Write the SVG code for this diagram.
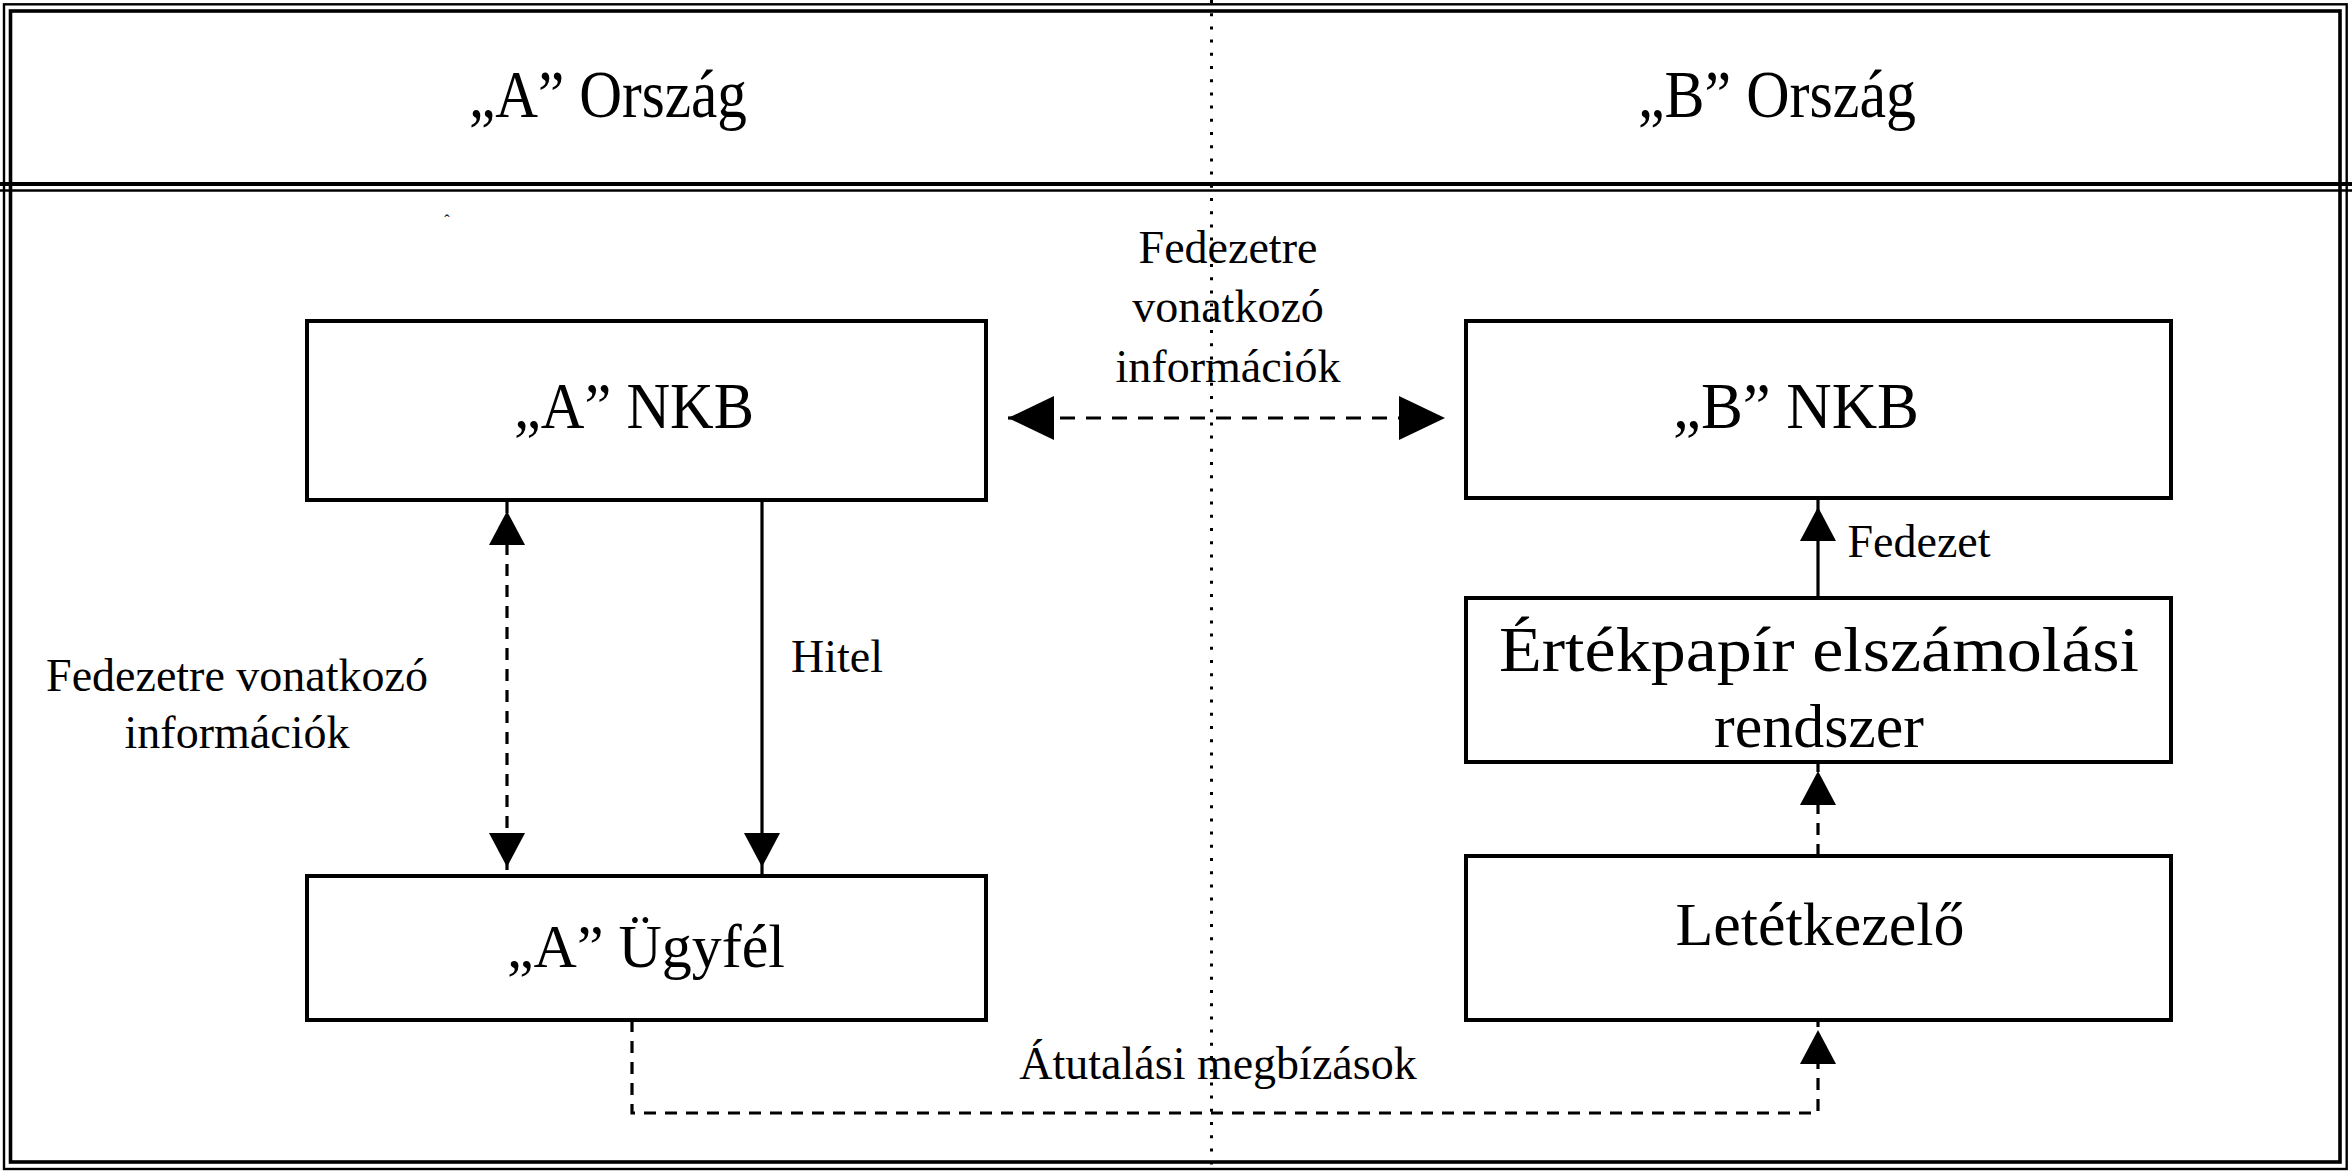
<svg xmlns="http://www.w3.org/2000/svg" width="2352" height="1171" viewBox="0 0 2352 1171">
<style>
  .frame-thin{fill:none;stroke:#000;stroke-width:2.4}
  .frame-thick{fill:none;stroke:#000;stroke-width:3.6}
  .box{fill:#fff;stroke:#000;stroke-width:4}
  .t{font-family:"Liberation Serif","Times New Roman",serif;fill:#000;text-anchor:middle}
  .hdr{font-size:68px}
  .big{font-size:66px}
  .mid{font-size:62px}
  .lbl{font-size:46px}
  .solid{fill:none;stroke:#000;stroke-width:3.2}
  .dash{fill:none;stroke:#000;stroke-width:3.2;stroke-dasharray:12 9}
  .dashH{fill:none;stroke:#000;stroke-width:3.2;stroke-dasharray:15 11}
  .dots{fill:none;stroke:#000;stroke-width:3;stroke-dasharray:3 10.2}
</style>
<defs>
  <marker id="ah" markerUnits="userSpaceOnUse" markerWidth="34" markerHeight="36" refX="44" refY="18" orient="auto-start-reverse">
    <path d="M0,0 L34,18 L0,36 Z" fill="#000"/>
  </marker>
  <marker id="ahL" markerUnits="userSpaceOnUse" markerWidth="46" markerHeight="44" refX="46" refY="22" orient="auto-start-reverse">
    <path d="M0,0 L46,22 L0,44 Z" fill="#000"/>
  </marker>
</defs>
<rect width="2352" height="1171" fill="#fff"/>

<g id="frame">
  <rect class="frame-thin" x="4" y="4.3" width="2342.7" height="1164.7"/>
  <rect class="frame-thick" x="10.5" y="11" width="2329.5" height="1151"/>
  <line x1="0" y1="184" x2="2352" y2="184" stroke="#000" stroke-width="4"/>
  <line x1="0" y1="190.5" x2="2352" y2="190.5" stroke="#000" stroke-width="2.6"/>
  <line class="dots" x1="1211.5" y1="0" x2="1211.5" y2="1171"/>
  <text class="t" x="447" y="226" font-size="16" fill="#666">ˆ</text>
</g>

<g id="header-a"><text class="t hdr" x="608" y="117" textLength="278" lengthAdjust="spacingAndGlyphs">„A” Ország</text></g>
<g id="header-b"><text class="t hdr" x="1777" y="117" textLength="278" lengthAdjust="spacingAndGlyphs">„B” Ország</text></g>

<g id="nkb-a">
  <rect class="box" x="307" y="321" width="679" height="179"/>
  <text class="t big" x="634" y="428" textLength="240" lengthAdjust="spacingAndGlyphs">„A” NKB</text>
</g>
<g id="ugyfel-a">
  <rect class="box" x="307" y="876" width="679" height="144"/>
  <text class="t mid" x="646" y="967" textLength="278" lengthAdjust="spacingAndGlyphs">„A” Ügyfél</text>
</g>
<g id="nkb-b">
  <rect class="box" x="1466" y="321" width="705" height="177"/>
  <text class="t big" x="1796" y="428" textLength="246" lengthAdjust="spacingAndGlyphs">„B” NKB</text>
</g>
<g id="ertekpapir">
  <rect class="box" x="1466" y="598" width="705" height="164"/>
  <text class="t" x="1819" y="671" font-size="64" textLength="640" lengthAdjust="spacingAndGlyphs">Értékpapír elszámolási</text>
  <text class="t mid" x="1819" y="747">rendszer</text>
</g>
<g id="letetkezelo">
  <rect class="box" x="1466" y="856" width="705" height="164"/>
  <text class="t mid" x="1820" y="945">Letétkezelő</text>
</g>

<g id="connectors">
  <line class="dash" x1="507" y1="501" x2="507" y2="877" marker-start="url(#ah)" marker-end="url(#ah)"/>
  <line class="solid" x1="762" y1="501" x2="762" y2="877" marker-end="url(#ah)"/>
  <line class="dashH" x1="1008" y1="418" x2="1445" y2="418" marker-start="url(#ahL)" marker-end="url(#ahL)"/>
  <line class="solid" x1="1818" y1="598" x2="1818" y2="497" marker-end="url(#ah)"/>
  <line class="dash" x1="1818" y1="856" x2="1818" y2="761" marker-end="url(#ah)"/>
  <path class="dash" d="M632,1020 V1113 H1818 V1020" marker-end="url(#ah)"/>
  <text class="t lbl" x="1228" y="263">Fedezetre</text>
  <text class="t lbl" x="1228" y="322">vonatkozó</text>
  <text class="t lbl" x="1228" y="382">információk</text>
  <text class="t lbl" x="237" y="691">Fedezetre vonatkozó</text>
  <text class="t lbl" x="237" y="748">információk</text>
  <text class="t lbl" x="837" y="672">Hitel</text>
  <text class="t lbl" x="1919" y="557">Fedezet</text>
  <text class="t lbl" x="1218" y="1079">Átutalási megbízások</text>
</g>
</svg>
